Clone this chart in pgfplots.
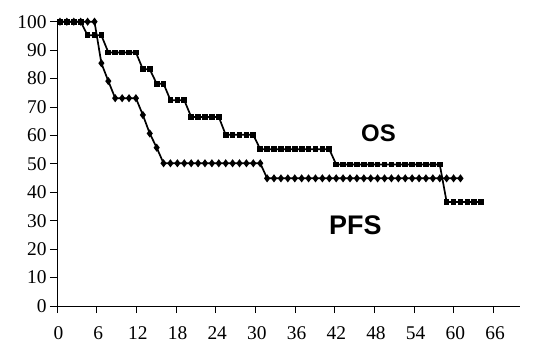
\documentclass[border=0pt]{standalone}
\usepackage{fontspec}
\setmainfont{Liberation Serif}
\newfontfamily\arialf{Liberation Sans}
\usepackage{pgfplots}
\pgfplotsset{compat=1.18}

\begin{document}
\begin{tikzpicture}
\begin{axis}[
  scale only axis, width=463bp, height=284.3bp,
  xmin=0, xmax=70, ymin=0, ymax=100,
  axis x line=bottom, axis y line=left,
  axis line style={-, line width=0.8bp, black},
  xtick={0,6,...,66}, ytick={0,10,...,100},
  tick align=outside, major tick length=7bp,
  tick style={black, line width=0.8bp},
  ticklabel style={font=\fontsize{19.5}{19.5}\selectfont},
  xticklabel style={yshift=-10bp, xshift=1.5bp},
  /pgf/number format/assume math mode=true,
  clip=false,
]
\coordinate (O) at (rel axis cs:0,0);
% PFS
\addplot[black, line width=1.7bp, mark=diamond*, mark size=2.7bp] coordinates {
(0.45,100)(1.49,100)(2.54,100)(3.58,100)(4.63,100)(5.67,100)
(6.71,85.4)(7.76,79.1)
(8.80,73.1)(9.85,73.1)(10.89,73.1)(11.93,73.1)
(12.98,67.2)(14.02,60.7)(15.07,55.7)
(16.11,50.2)(17.15,50.2)(18.20,50.2)(19.24,50.2)(20.29,50.2)(21.33,50.2)(22.37,50.2)(23.42,50.2)
(24.46,50.2)(25.51,50.2)(26.55,50.2)(27.59,50.2)(28.64,50.2)(29.68,50.2)(30.73,50.2)
(31.77,44.9)(32.81,44.9)(33.86,44.9)(34.90,44.9)(35.95,44.9)(36.99,44.9)(38.03,44.9)(39.08,44.9)
(40.12,44.9)(41.17,44.9)(42.21,44.9)(43.25,44.9)(44.30,44.9)(45.34,44.9)(46.39,44.9)(47.43,44.9)
(48.47,44.9)(49.52,44.9)(50.56,44.9)(51.61,44.9)(52.65,44.9)(53.69,44.9)(54.74,44.9)(55.78,44.9)
(56.83,44.9)(57.87,44.9)(58.91,44.9)(59.96,44.9)(61.00,44.9)
};
% OS
\addplot[black, line width=1.7bp, mark=square*, mark size=2bp] coordinates {
(0.45,100)(1.49,100)(2.54,100)(3.58,100)
(4.63,95.2)(5.67,95.2)(6.71,95.2)
(7.76,89.2)(8.80,89.2)(9.85,89.2)(10.89,89.2)(11.93,89.2)
(12.98,83.3)(14.02,83.3)
(15.07,78.2)(16.11,78.2)
(17.15,72.4)(18.20,72.4)(19.24,72.4)
(20.29,66.5)(21.33,66.5)(22.37,66.5)(23.42,66.5)(24.46,66.5)
(25.51,60.2)(26.55,60.2)(27.59,60.2)(28.64,60.2)(29.68,60.2)
(30.73,55.1)(31.77,55.1)(32.81,55.1)(33.86,55.1)(34.90,55.1)(35.95,55.1)(36.99,55.1)(38.03,55.1)
(39.08,55.1)(40.12,55.1)(41.17,55.1)
(42.21,49.8)(43.25,49.8)(44.30,49.8)(45.34,49.8)(46.39,49.8)(47.43,49.8)(48.47,49.8)(49.52,49.8)
(50.56,49.8)(51.61,49.8)(52.65,49.8)(53.69,49.8)(54.74,49.8)(55.78,49.8)(56.83,49.8)(57.87,49.8)
(58.91,36.6)(59.96,36.6)(61.00,36.6)(62.05,36.6)(63.09,36.6)(64.13,36.6)
};
\node[font=\arialf\bfseries\fontsize{24}{24}\selectfont] at (axis cs:48.6,60.9) {OS};
\node[font=\arialf\bfseries\fontsize{27}{27}\selectfont] at (axis cs:45.1,28.5) {PFS};
\end{axis}
\pgfresetboundingbox
\path (O) ++(-57bp,-39bp) rectangle ++(544bp,345bp);
\end{tikzpicture}
\end{document}
